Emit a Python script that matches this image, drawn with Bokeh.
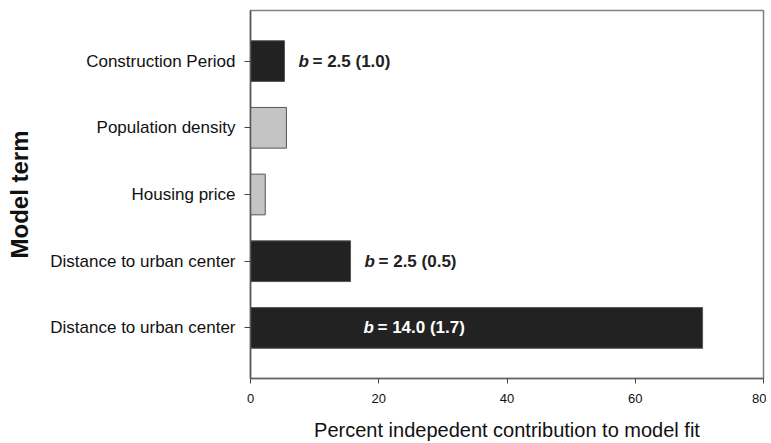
from bokeh.plotting import figure
from bokeh.models import ColumnDataSource, Range1d, FixedTicker
from bokeh.core.properties import value
from bokeh.embed import file_html
from bokeh.resources import INLINE

# Data (bottom to top)
terms = ["Distance to urban center", "Distance to urban center", "Housing price",
         "Population density", "Construction Period"]
contribution = [70.5, 15.6, 2.3, 5.6, 5.3]
significant = [True, True, False, False, True]
b_text = ["= 14.0 (1.7)", "= 2.5 (0.5)", "", "", "= 2.5 (1.0)"]
x_ticks = [0, 20, 40, 60, 80]

FONT = "Liberation Sans"
positions = list(range(1, len(terms) + 1))

p = figure(width=766, height=443, output_backend="svg", toolbar_location=None,
           x_range=Range1d(0, 80), y_range=Range1d(0.242, 5.758),
           min_border_left=250, min_border_right=3, min_border_top=10,
           min_border_bottom=60)

fills = ["#222222" if s else "#c4c4c4" for s in significant]
src = ColumnDataSource(dict(y=positions, right=contribution, fill=fills))
p.hbar(y="y", left=0, right="right", height=0.61, fill_color="fill",
       line_color="#555555", line_width=1, source=src)

# annotations
out_x, out_y, out_t = [], [], []
in_x, in_y, in_t = [], [], []
for pos, c, t in zip(positions, contribution, b_text):
    if not t:
        continue
    if c > 40:
        in_x.append(0); in_y.append(pos); in_t.append(t)
    else:
        out_x.append(c); out_y.append(pos); out_t.append(t)

osrc = ColumnDataSource(dict(x=out_x, y=out_y, t=out_t, b=["b"] * len(out_t)))
isrc = ColumnDataSource(dict(x=in_x, y=in_y, t=in_t, b=["b"] * len(in_t)))

common = dict(text_font=value(FONT), text_font_size="17px", text_baseline="middle",
              text_align="left")
p.text(x="x", y="y", text="b", source=osrc, x_offset=14, text_font_style="bold italic",
       text_color="#222222", **common)
p.text(x="x", y="y", text="t", source=osrc, x_offset=28, text_font_style="bold",
       text_color="#222222", **common)
p.text(x="x", y="y", text="b", source=isrc, x_offset=113, text_font_style="bold italic",
       text_color="#ffffff", **common)
p.text(x="x", y="y", text="t", source=isrc, x_offset=127, text_font_style="bold",
       text_color="#ffffff", **common)

# axes
p.xgrid.visible = False
p.ygrid.visible = False
p.outline_line_color = "#808080"
p.outline_line_width = 1.5

p.xaxis.ticker = FixedTicker(ticks=x_ticks)
p.xaxis.minor_tick_line_color = None
p.xaxis.major_tick_in = 0
p.xaxis.major_tick_out = 5
p.xaxis.major_label_standoff = 10
p.xaxis.axis_line_color = "#666666"
p.xaxis.axis_line_width = 1.5
p.xaxis.major_tick_line_color = "#444444"
p.xaxis.major_label_text_font = FONT
p.xaxis.major_label_text_font_size = "13px"
p.xaxis.major_label_text_color = "#111111"
p.xaxis.axis_label = "Percent indepedent contribution to model fit"
p.xaxis.axis_label_text_font = FONT
p.xaxis.axis_label_text_font_size = "20px"
p.xaxis.axis_label_text_font_style = "normal"
p.xaxis.axis_label_text_color = "#111111"
p.xaxis.axis_label_standoff = 13

p.yaxis.ticker = FixedTicker(ticks=positions)
p.yaxis.major_label_overrides = {pos: t for pos, t in zip(positions, terms)}
p.yaxis.minor_tick_line_color = None
p.yaxis.major_tick_in = 0
p.yaxis.major_tick_out = 6
p.yaxis.major_label_standoff = 9
p.yaxis.axis_line_color = "#555555"
p.yaxis.axis_line_width = 1.5
p.yaxis.major_tick_line_color = "#444444"
p.yaxis.major_label_text_font = FONT
p.yaxis.major_label_text_font_size = "17px"
p.yaxis.major_label_text_color = "#111111"
p.yaxis.axis_label = "Model term"
p.yaxis.axis_label_text_font = FONT
p.yaxis.axis_label_text_font_size = "24px"
p.yaxis.axis_label_text_font_style = "bold"
p.yaxis.axis_label_text_color = "#111111"
p.yaxis.axis_label_standoff = 14

open("out.html", "w").write(file_html(p, INLINE))
